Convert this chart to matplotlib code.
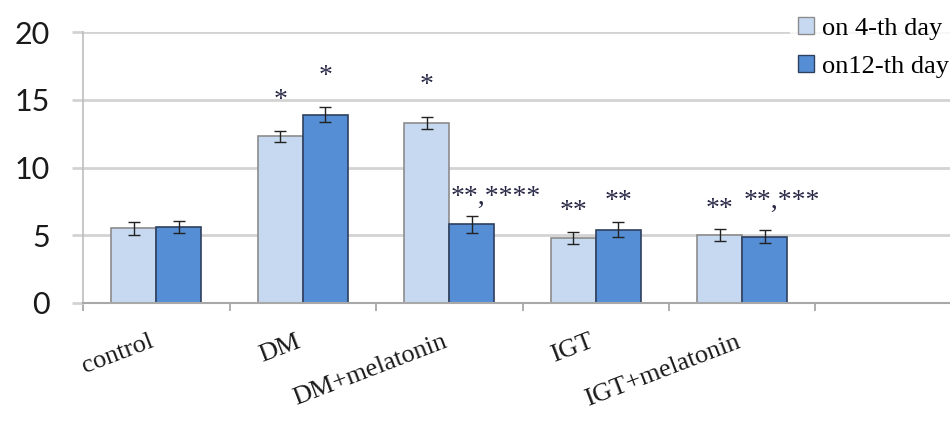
import matplotlib
matplotlib.use("Agg")
import matplotlib.pyplot as plt
import matplotlib.transforms as mtransforms
from matplotlib.patches import Patch
import numpy as np

# values
groups = ["control", "DM", "DM+melatonin", "IGT", "IGT+melatonin"]
n_slots = 6  # the axis keeps one empty slot at the right
day4 = [5.5, 12.3, 13.3, 4.8, 5.0]
day12 = [5.6, 13.9, 5.8, 5.4, 4.9]
day4_err = [0.45, 0.43, 0.45, 0.44, 0.43]
day12_err = [0.45, 0.55, 0.6, 0.55, 0.5]
series_names = ["on 4-th day", "on12-th day"]

# significance marks: (group, series 0/1, text, level of the stars)
marks = [
    (1, 0, "*", 15.4),
    (1, 1, "*", 17.2),
    (2, 0, "*", 16.5),
    (2, 1, "**,****", 8.3),
    (3, 0, "**", 7.2),
    (3, 1, "**", 7.95),
    (4, 0, "**", 7.4),
    (4, 1, "**,***", 7.95),
]

LIGHT = "#c6d9f1"
DARK = "#558ed5"
GRID = "#d3d3d3"
SERIF = "Liberation Serif"

fig = plt.figure(figsize=(9.5, 4.24), dpi=100)
ax = fig.add_axes([83 / 950, 121 / 424, 879 / 950, 271 / 424])

x = np.arange(len(groups))
w = 0.307
ax.bar(x - w / 2, day4, w, color=LIGHT, edgecolor="#8c8c8c", linewidth=1.2, zorder=3)
ax.bar(x + w / 2, day12, w, color=DARK, edgecolor="#2f3f5f", linewidth=1.2, zorder=3)
ax.errorbar(x - w / 2, day4, yerr=day4_err, fmt="none", ecolor="#222222",
            elinewidth=1, capsize=4, capthick=1, zorder=4)
ax.errorbar(x + w / 2, day12, yerr=day12_err, fmt="none", ecolor="#222222",
            elinewidth=1, capsize=4, capthick=1, zorder=4)

for g, s, txt, lvl in marks:
    xc = g - w / 2 if s == 0 else g + w / 2
    if len(txt) > 2:
        ax.text(xc - w / 2 + 0.01, lvl - 0.95, txt, ha="left", va="baseline",
                fontsize=20, family=SERIF, color="#2a2a48", zorder=5)
    else:
        ax.text(xc, lvl - 0.95, txt, ha="center", va="baseline", fontsize=20,
                family=SERIF, color="#2a2a48", zorder=5)

ax.set_xlim(-0.5, n_slots - 0.5)
ax.set_ylim(0, 20)
ax.set_yticks([0, 5, 10, 15, 20])
ax.yaxis.grid(True, color=GRID, linewidth=2, zorder=0)
ax.tick_params(axis="y", length=8, width=2, color=GRID, pad=16,
               labelsize=22, labelcolor="#1a1a1a")
for lab in ax.get_yticklabels():
    lab.set_family("Lato")

ax.set_xticks(x)
ax.set_xticklabels(groups, rotation=21, ha="right", va="top",
                   rotation_mode="anchor", family=SERIF, fontsize=19, color="#1a1a1a")
ax.tick_params(axis="x", which="major", length=0, pad=20)
shift = mtransforms.ScaledTranslation(-7 / 100, 0, fig.dpi_scale_trans)
for lab in ax.get_xticklabels():
    lab.set_transform(lab.get_transform() + shift)
ax.set_xticks(np.arange(n_slots + 1) - 0.5, minor=True)
ax.tick_params(axis="x", which="minor", length=6, width=1.2, color="#a0a0a0")

for side in ("top", "right"):
    ax.spines[side].set_visible(False)
ax.spines["left"].set_color("#bdbdbd")
ax.spines["left"].set_linewidth(1.2)
ax.spines["bottom"].set_color("#a8a8a8")
ax.spines["bottom"].set_linewidth(1.5)
ax.spines["bottom"].set_zorder(4)

handles = [Patch(facecolor=LIGHT, edgecolor="#8c8c8c"),
           Patch(facecolor=DARK, edgecolor="#2f3f5f")]
leg = fig.legend(handles, series_names, loc="upper left",
                 bbox_to_anchor=(790 / 950, 1 - 9 / 424), frameon=True,
                 prop={"family": SERIF, "size": 19}, handlelength=0.6,
                 handleheight=0.6, handletextpad=0.3, labelspacing=0.6,
                 borderpad=0.3, borderaxespad=0)
leg.get_frame().set_edgecolor("none")
leg.get_frame().set_facecolor("white")

fig.savefig("out.png", dpi=100)
